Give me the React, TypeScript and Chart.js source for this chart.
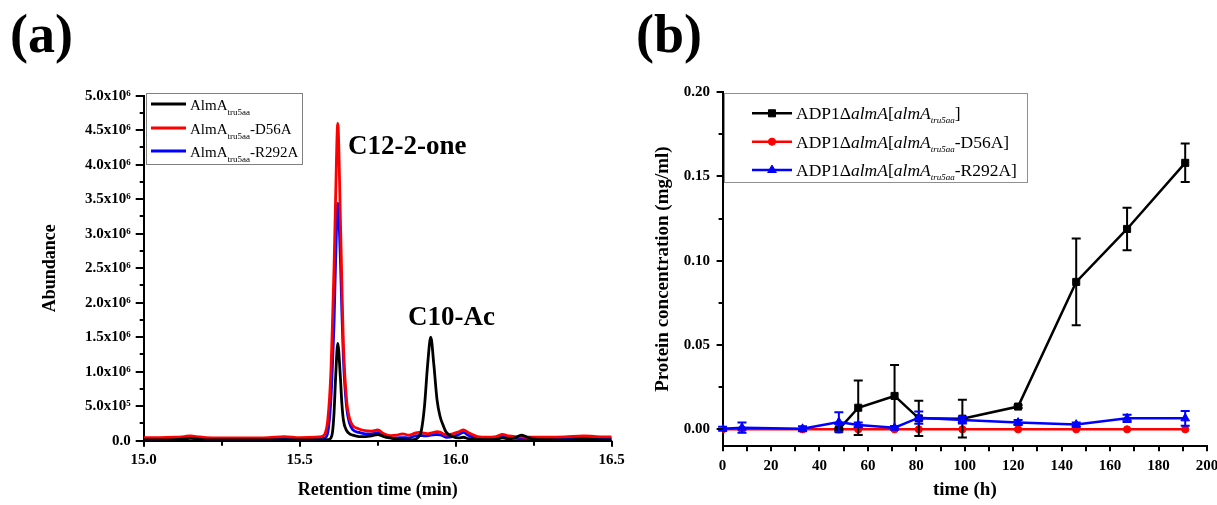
import React, { useEffect, useRef } from "react";
import { Chart, registerables } from "chart.js";

Chart.register(...registerables);

const FONT = "'Liberation Serif', 'Times New Roman', Times, serif";

// ---------- Panel (a): chromatogram ----------
const retentionTimes = [
  15.0, 15.05, 15.1, 15.13, 15.15, 15.17, 15.2, 15.3, 15.4, 15.45,
  15.5, 15.55, 15.57, 15.58, 15.59, 15.6, 15.605, 15.61, 15.615, 15.622,
  15.63, 15.635, 15.64, 15.65, 15.66, 15.67, 15.69, 15.71, 15.73, 15.75,
  15.77, 15.79, 15.81, 15.83, 15.85, 15.87, 15.88, 15.89, 15.9, 15.91,
  15.92, 15.93, 15.94, 15.95, 15.96, 15.97, 15.99, 16.01, 16.025, 16.04,
  16.07, 16.1, 16.13, 16.15, 16.17, 16.19, 16.21, 16.23, 16.26, 16.3,
  16.35, 16.41, 16.45, 16.5,
];
// abundance in units of 10^6
const abundanceAlmA = [
  0.01, 0.01, 0.015, 0.025, 0.035, 0.025, 0.01, 0.01, 0.01, 0.015,
  0.01, 0.01, 0.01, 0.01, 0.015, 0.04, 0.12, 0.4, 0.9, 1.41,
  0.95, 0.55, 0.3, 0.15, 0.1, 0.08, 0.06, 0.06, 0.07, 0.09,
  0.06, 0.04, 0.02, 0.015, 0.01, 0.02, 0.05, 0.15, 0.5, 1.1,
  1.5, 1.1, 0.6, 0.35, 0.22, 0.12, 0.06, 0.04, 0.05, 0.03,
  0.02, 0.015, 0.02, 0.04, 0.025, 0.04, 0.08, 0.05, 0.02, 0.015,
  0.01, 0.02, 0.015, 0.01,
];
const abundanceD56A = [
  0.045, 0.045, 0.05, 0.06, 0.07, 0.06, 0.045, 0.04, 0.045, 0.06,
  0.045, 0.05, 0.06, 0.09, 0.3, 1.0, 1.7, 2.5, 3.5, 4.6,
  3.3, 2.3, 1.4, 0.6, 0.32, 0.22, 0.17, 0.145, 0.14, 0.155,
  0.1, 0.075, 0.08, 0.1, 0.08, 0.11, 0.12, 0.115, 0.11, 0.1,
  0.11, 0.12, 0.13, 0.125, 0.1, 0.08, 0.1, 0.13, 0.155, 0.12,
  0.06, 0.05, 0.06, 0.09, 0.07, 0.06, 0.055, 0.05, 0.05, 0.05,
  0.055, 0.07, 0.06, 0.055,
];
const abundanceR292A = [
  0.025, 0.025, 0.03, 0.035, 0.045, 0.035, 0.025, 0.025, 0.025, 0.03,
  0.025, 0.025, 0.03, 0.04, 0.12, 0.6, 1.1, 1.7, 2.6, 3.44,
  2.7, 1.9, 1.2, 0.5, 0.25, 0.16, 0.12, 0.1, 0.1, 0.115,
  0.06, 0.045, 0.04, 0.045, 0.04, 0.07, 0.075, 0.075, 0.07, 0.07,
  0.08, 0.085, 0.09, 0.085, 0.07, 0.05, 0.06, 0.09, 0.12, 0.08,
  0.04, 0.03, 0.04, 0.07, 0.045, 0.035, 0.03, 0.03, 0.03, 0.03,
  0.03, 0.04, 0.035, 0.035,
];
const abundanceTicks = [0, 0.5, 1, 1.5, 2, 2.5, 3, 3.5, 4, 4.5, 5];
const retentionTicks = [15, 15.5, 16, 16.5];
const peakLabels = ["C12-2-one", "C10-Ac"];
const peakLabelTimes = [15.655, 15.847];
const peakLabelLevels = [4.26, 1.78];
// legend text: [base, subscript, suffix]
const legendA = [
  ["AlmA", "tru5aa", ""],
  ["AlmA", "tru5aa", "-D56A"],
  ["AlmA", "tru5aa", "-R292A"],
];

// ---------- Panel (b): protein concentration ----------
const hours = [0, 8, 33, 48, 56, 71, 81, 99, 122, 146, 167, 191];
const proteinAlmA = [null, null, null, 0.0, 0.0128, 0.0198, 0.0065, 0.0063, 0.0135, 0.0874, 0.1188, 0.158];
const proteinAlmAErr = [0, 0, 0, 0.0006, 0.0162, 0.0183, 0.0105, 0.0112, 0.0008, 0.0257, 0.0126, 0.0114];
const proteinD56A = [0, 0, 0, 0, 0, 0, 0, 0, 0, 0, 0, 0];
const proteinD56AErr = [0, 0, 0, 0, 0, 0, 0, 0, 0, 0, 0, 0];
const proteinR292A = [0.0003, 0.001, 0.0003, 0.0043, 0.0026, 0.001, 0.0069, 0.0055, 0.004, 0.0028, 0.0065, 0.0065];
const proteinR292AErr = [0.0012, 0.003, 0.0015, 0.0058, 0.0014, 0.001, 0.0036, 0.002, 0.0015, 0.0013, 0.0022, 0.0044];
const hourTicks = [0, 20, 40, 60, 80, 100, 120, 140, 160, 180, 200];
const proteinTicks = [0, 0.05, 0.1, 0.15, 0.2];
// legend text: [prefix, italic, bracket, italic, italic subscript, suffix]
const legendB = [
  ["ADP1Δ", "almA", "[", "almA", "tru5aa", "]"],
  ["ADP1Δ", "almA", "[", "almA", "tru5aa", "-D56A]"],
  ["ADP1Δ", "almA", "[", "almA", "tru5aa", "-R292A]"],
];

const midpoints = (arr: number[]) => arr.slice(1).map((v, i) => (v + arr[i]) / 2);

type TickSpec = { axis: string; major: number[]; minor: number[]; majorLen: number; minorLen: number };

function tickPlugin(specs: TickSpec[]) {
  return {
    id: "tickMarks",
    afterDraw(chart: any) {
      const { ctx, chartArea } = chart;
      ctx.save();
      ctx.strokeStyle = "#000";
      ctx.lineWidth = 2;
      specs.forEach((s) => {
        const sc = chart.scales[s.axis];
        const draw = (v: number, len: number) => {
          const p = Math.round(sc.getPixelForValue(v));
          ctx.beginPath();
          if (s.axis === "x") {
            ctx.moveTo(p, chartArea.bottom);
            ctx.lineTo(p, chartArea.bottom + len);
          } else {
            ctx.moveTo(chartArea.left, p);
            ctx.lineTo(chartArea.left - len, p);
          }
          ctx.stroke();
        };
        s.major.forEach((v) => draw(v, s.majorLen));
        s.minor.forEach((v) => draw(v, s.minorLen));
      });
      ctx.restore();
    },
  };
}

type Seg = { t: string; size: number; italic?: boolean; shift?: number };
function drawRich(ctx: CanvasRenderingContext2D, x: number, y: number, segs: Seg[]) {
  let cx = x;
  segs.forEach((s) => {
    ctx.font = `${s.italic ? "italic " : ""}${s.size}px ${FONT}`;
    ctx.fillText(s.t, cx, y + (s.shift || 0));
    cx += ctx.measureText(s.t).width;
  });
}

function drawMarker(ctx: CanvasRenderingContext2D, style: string, x: number, y: number, r: number) {
  ctx.beginPath();
  if (style === "rect") {
    const s = Math.SQRT1_2 * r;
    ctx.rect(x - s, y - s, 2 * s, 2 * s);
  } else if (style === "circle") {
    ctx.arc(x, y, r, 0, Math.PI * 2);
  } else {
    for (let k = 0; k < 3; k++) {
      const a = (k * 2 * Math.PI) / 3;
      const px = x + Math.sin(a) * r;
      const py = y - Math.cos(a) * r;
      if (k === 0) ctx.moveTo(px, py);
      else ctx.lineTo(px, py);
    }
    ctx.closePath();
  }
  ctx.fill();
  ctx.stroke();
}

const colorsA = ["#000000", "#ff0000", "#0000ff"];
const colorsB = ["#000000", "#ff0000", "#0000ff"];
const stylesB = ["rect", "circle", "triangle"];
const radiiB = [5, 3.6, 5];

function configA(): any {
  const series = [abundanceAlmA, abundanceD56A, abundanceR292A];
  const decor = {
    id: "decorA",
    afterDraw(chart: any) {
      const { ctx } = chart;
      const xs = chart.scales.x;
      const ys = chart.scales.y;
      ctx.save();
      ctx.fillStyle = "#000";
      ctx.textAlign = "left";
      ctx.textBaseline = "alphabetic";
      ctx.font = `bold 54px ${FONT}`;
      ctx.fillText("(a)", 10, 52);
      ctx.font = `bold 27px ${FONT}`;
      ctx.textBaseline = "middle";
      peakLabels.forEach((s, i) => {
        ctx.fillText(s, xs.getPixelForValue(peakLabelTimes[i]), ys.getPixelForValue(peakLabelLevels[i]));
      });
      // legend
      ctx.fillStyle = "#fff";
      ctx.fillRect(146.5, 93.5, 156, 71);
      ctx.strokeStyle = "#808080";
      ctx.lineWidth = 1;
      ctx.strokeRect(146.5, 93.5, 156, 71);
      const rows = [104, 128, 151];
      ctx.textBaseline = "alphabetic";
      legendA.forEach((parts, i) => {
        const y = rows[i];
        ctx.strokeStyle = colorsA[i];
        ctx.lineWidth = 3;
        ctx.beginPath();
        ctx.moveTo(151, y);
        ctx.lineTo(186, y);
        ctx.stroke();
        ctx.fillStyle = "#000";
        drawRich(ctx, 190, y + 6, [
          { t: parts[0], size: 15 },
          { t: parts[1], size: 9, shift: 5 },
          { t: parts[2], size: 15 },
        ]);
      });
      ctx.restore();
    },
  };
  return {
    type: "line",
    data: {
      datasets: series.map((vals, i) => ({
        label: legendA[i].join(""),
        data: retentionTimes.map((t, j) => ({ x: t, y: vals[j] })),
        borderColor: colorsA[i],
        backgroundColor: colorsA[i],
        borderWidth: 2.8,
        pointRadius: 0,
        cubicInterpolationMode: "monotone",
        fill: false,
      })),
    },
    options: {
      responsive: false,
      maintainAspectRatio: false,
      animation: false,
      events: [],
      layout: { padding: { left: 0, top: 95.7, right: 18.3, bottom: 0 } },
      plugins: { legend: { display: false }, tooltip: { enabled: false }, title: { display: false } },
      scales: {
        x: {
          type: "linear",
          min: 15,
          max: 16.5,
          afterBuildTicks: (s: any) => {
            s.ticks = retentionTicks.map((v) => ({ value: v }));
          },
          afterFit: (s: any) => {
            s.height = 64.3;
            s.paddingLeft = 0;
            s.paddingRight = 0;
          },
          ticks: {
            callback: (v: number) => v.toFixed(1),
            font: { family: FONT, size: 15, weight: "bold" },
            color: "#000",
            padding: 10.3,
            maxRotation: 0,
            autoSkip: false,
          },
          grid: { display: false, drawTicks: false },
          border: { display: true, color: "#000", width: 2 },
          title: {
            display: true,
            text: "Retention time (min)",
            font: { family: FONT, size: 18, weight: "bold" },
            color: "#000",
            padding: { top: 0, bottom: 4.2 },
          },
        },
        y: {
          type: "linear",
          min: 0,
          max: 5,
          afterBuildTicks: (s: any) => {
            s.ticks = abundanceTicks.map((v) => ({ value: v }));
          },
          afterFit: (s: any) => {
            s.width = 143.7;
          },
          ticks: {
            callback: (v: number) => (v === 0 ? "0.0" : v < 1 ? (v * 10).toFixed(1) + "x10⁵" : v.toFixed(1) + "x10⁶"),
            font: { family: FONT, size: 15, weight: "bold" },
            color: "#000",
            padding: 13,
            autoSkip: false,
          },
          grid: { display: false, drawTicks: false },
          border: { display: true, color: "#000", width: 2 },
          title: {
            display: true,
            text: "Abundance",
            font: { family: FONT, size: 18, weight: "bold" },
            color: "#000",
            padding: { top: 39.2, bottom: 0 },
          },
        },
      },
    },
    plugins: [
      tickPlugin([
        { axis: "x", major: retentionTicks, minor: midpoints(retentionTicks), majorLen: 6, minorLen: 5 },
        { axis: "y", major: abundanceTicks, minor: midpoints(abundanceTicks), majorLen: 8, minorLen: 4 },
      ]),
      decor,
    ],
  };
}

function configB(): any {
  const series = [proteinAlmA, proteinD56A, proteinR292A];
  const errs = [proteinAlmAErr, proteinD56AErr, proteinR292AErr];
  const orders = [1, 2, 0];
  const errorBars = {
    id: "errorBars",
    afterDatasetDraw(chart: any, args: any) {
      const i = args.index;
      const { ctx } = chart;
      const xs = chart.scales.x;
      const ys = chart.scales.y;
      ctx.save();
      ctx.strokeStyle = colorsB[i];
      ctx.lineWidth = 2;
      hours.forEach((h, j) => {
        const v = series[i][j];
        const e = errs[i][j];
        if (v === null || v === undefined || !e) return;
        const x = xs.getPixelForValue(h);
        const yt = ys.getPixelForValue(v + e);
        const yb = ys.getPixelForValue(v - e);
        ctx.beginPath();
        ctx.moveTo(x, yt);
        ctx.lineTo(x, yb);
        ctx.moveTo(x - 4.5, yt);
        ctx.lineTo(x + 4.5, yt);
        ctx.moveTo(x - 4.5, yb);
        ctx.lineTo(x + 4.5, yb);
        ctx.stroke();
      });
      ctx.restore();
    },
  };
  const decor = {
    id: "decorB",
    afterDraw(chart: any) {
      const { ctx } = chart;
      ctx.save();
      ctx.fillStyle = "#000";
      ctx.textAlign = "left";
      ctx.textBaseline = "alphabetic";
      ctx.font = `bold 54px ${FONT}`;
      ctx.fillText("(b)", 6, 52);
      // legend box
      ctx.fillStyle = "#fff";
      ctx.fillRect(94.5, 93.5, 303, 89);
      ctx.strokeStyle = "#909090";
      ctx.lineWidth = 1;
      ctx.strokeRect(94.5, 93.5, 303, 89);
      const rows = [113.3, 141.7, 170];
      legendB.forEach((parts, i) => {
        const y = rows[i];
        ctx.strokeStyle = colorsB[i];
        ctx.fillStyle = colorsB[i];
        ctx.lineWidth = 2.5;
        ctx.beginPath();
        ctx.moveTo(122, y);
        ctx.lineTo(162, y);
        ctx.stroke();
        ctx.lineWidth = 1;
        drawMarker(ctx, stylesB[i], 142, y, radiiB[i]);
        ctx.fillStyle = "#000";
        drawRich(ctx, 166, y + 6, [
          { t: parts[0], size: 17.5 },
          { t: parts[1], size: 17.5, italic: true },
          { t: parts[2], size: 17.5 },
          { t: parts[3], size: 17.5, italic: true },
          { t: parts[4], size: 9, italic: true, shift: 4 },
          { t: parts[5], size: 17.5 },
        ]);
      });
      ctx.restore();
    },
  };
  return {
    type: "line",
    data: {
      datasets: series.map((vals, i) => ({
        label: legendB[i].join(""),
        data: hours.map((h, j) => ({ x: h, y: vals[j] })),
        borderColor: colorsB[i],
        backgroundColor: colorsB[i],
        borderWidth: 2.5,
        pointStyle: stylesB[i],
        pointRadius: radiiB[i],
        pointBorderWidth: 1,
        pointBorderColor: colorsB[i],
        pointBackgroundColor: colorsB[i],
        tension: 0,
        fill: false,
        order: orders[i],
        spanGaps: false,
      })),
    },
    options: {
      responsive: false,
      maintainAspectRatio: false,
      animation: false,
      events: [],
      layout: { padding: { left: 0, top: 92, right: 11, bottom: 0 } },
      plugins: { legend: { display: false }, tooltip: { enabled: false }, title: { display: false } },
      scales: {
        x: {
          type: "linear",
          min: 0,
          max: 200,
          afterBuildTicks: (s: any) => {
            s.ticks = hourTicks.map((v) => ({ value: v }));
          },
          afterFit: (s: any) => {
            s.height = 58.8;
            s.paddingLeft = 0;
            s.paddingRight = 0;
          },
          ticks: {
            callback: (v: number) => String(v),
            font: { family: FONT, size: 15, weight: "bold" },
            color: "#000",
            padding: 10.8,
            maxRotation: 0,
            autoSkip: false,
          },
          grid: { display: false, drawTicks: false },
          border: { display: true, color: "#000", width: 2 },
          title: {
            display: true,
            text: "time (h)",
            font: { family: FONT, size: 19, weight: "bold" },
            color: "#000",
            padding: { top: 0, bottom: 3.6 },
          },
        },
        y: {
          type: "linear",
          min: -0.01,
          max: 0.2,
          afterBuildTicks: (s: any) => {
            s.ticks = proteinTicks.map((v) => ({ value: v }));
          },
          afterFit: (s: any) => {
            s.width = 92.6;
          },
          ticks: {
            callback: (v: number) => v.toFixed(2),
            font: { family: FONT, size: 15, weight: "bold" },
            color: "#000",
            padding: 12.6,
            autoSkip: false,
          },
          grid: { display: false, drawTicks: false },
          border: { display: true, color: "#000", width: 2 },
          title: {
            display: true,
            text: "Protein concentration (mg/ml)",
            font: { family: FONT, size: 19, weight: "bold" },
            color: "#000",
            padding: { top: 21.6, bottom: 0 },
          },
        },
      },
    },
    plugins: [
      errorBars,
      tickPlugin([
        { axis: "x", major: hourTicks, minor: midpoints(hourTicks), majorLen: 5, minorLen: 5 },
        { axis: "y", major: proteinTicks, minor: midpoints(proteinTicks), majorLen: 6, minorLen: 4 },
      ]),
      decor,
    ],
  };
}

export default function App() {
  const refA = useRef<HTMLCanvasElement>(null);
  const refB = useRef<HTMLCanvasElement>(null);
  useEffect(() => {
    const a = new Chart(refA.current as HTMLCanvasElement, configA());
    const b = new Chart(refB.current as HTMLCanvasElement, configB());
    return () => {
      a.destroy();
      b.destroy();
    };
  }, []);
  return (
    <div
      style={{
        position: "fixed",
        left: 0,
        top: 0,
        width: 1217,
        height: 505,
        background: "#fff",
        overflow: "hidden",
      }}
    >
      <canvas
        ref={refA}
        width={630}
        height={505}
        style={{ position: "absolute", left: 0, top: 0, width: 630, height: 505 }}
      />
      <canvas
        ref={refB}
        width={588}
        height={505}
        style={{ position: "absolute", left: 630, top: 0, width: 588, height: 505 }}
      />
    </div>
  );
}
